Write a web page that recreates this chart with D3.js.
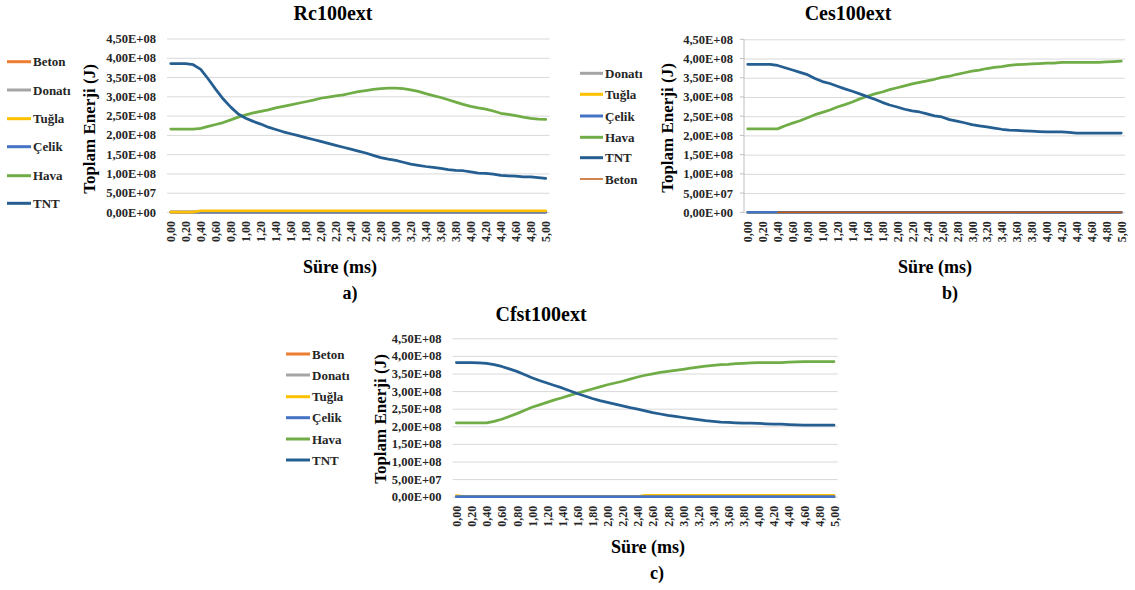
<!DOCTYPE html>
<html>
<head>
<meta charset="utf-8">
<script src="https://cdn.jsdelivr.net/npm/d3@7"></script>
<style>
  body { margin: 0; background: #fff; }
  svg { display: block; }
</style>
</head>
<body>
<svg id="chart" width="1135" height="590"></svg>
<script>
// Time steps (ms), one category per 0.1 ms
const time = [0.0,0.1,0.2,0.3,0.4,0.5,0.6,0.7,0.8,0.9,1.0,1.1,1.2,1.3,1.4,1.5,1.6,1.7,1.8,1.9,
              2.0,2.1,2.2,2.3,2.4,2.5,2.6,2.7,2.8,2.9,3.0,3.1,3.2,3.3,3.4,3.5,3.6,3.7,3.8,3.9,
              4.0,4.1,4.2,4.3,4.4,4.5,4.6,4.7,4.8,4.9,5.0];
// Category labels shown on the x axis (every second step)
const xTickTimes = [0.0,0.2,0.4,0.6,0.8,1.0,1.2,1.4,1.6,1.8,2.0,2.2,2.4,2.6,2.8,3.0,3.2,3.4,3.6,3.8,4.0,4.2,4.4,4.6,4.8,5.0];
const xTickLabels = ["0,00","0,20","0,40","0,60","0,80","1,00","1,20","1,40","1,60","1,80","2,00","2,20","2,40",
                     "2,60","2,80","3,00","3,20","3,40","3,60","3,80","4,00","4,20","4,40","4,60","4,80","5,00"];
// Energy axis (J)
const yTicks = [0, 5e7, 1e8, 1.5e8, 2e8, 2.5e8, 3e8, 3.5e8, 4e8, 4.5e8];
const yTickLabels = ["0,00E+00","5,00E+07","1,00E+08","1,50E+08","2,00E+08","2,50E+08","3,00E+08","3,50E+08","4,00E+08","4,50E+08"];
const yMax = 4.5e8;

// Energy values below are in units of 1e8 J
const UNIT = 1e8;

// ---- Rc100ext ----
const rcTNT = [3.85,3.85,3.85,3.82,3.70,3.45,3.18,2.93,2.72,2.54,2.43,2.35,2.28,2.20,2.14,2.08,2.03,1.98,1.93,1.88,
               1.83,1.78,1.73,1.68,1.63,1.58,1.53,1.47,1.41,1.37,1.34,1.29,1.24,1.21,1.18,1.16,1.13,1.10,1.08,1.07,
               1.04,1.01,1.00,0.98,0.95,0.94,0.93,0.91,0.91,0.89,0.87];
const rcHava = [2.15,2.15,2.15,2.15,2.17,2.22,2.27,2.32,2.39,2.46,2.52,2.57,2.61,2.65,2.70,2.74,2.78,2.82,2.86,2.90,
                2.95,2.98,3.01,3.04,3.08,3.12,3.15,3.18,3.20,3.21,3.21,3.20,3.17,3.13,3.07,3.02,2.97,2.91,2.85,2.79,
                2.74,2.70,2.67,2.62,2.56,2.53,2.50,2.46,2.43,2.41,2.40];
const rcTugla = [0,0,0,0,0.03,0.03,0.03,0.03,0.03,0.03,0.03,0.03,0.03,0.03,0.03,0.03,0.03,0.03,0.03,0.03,
                 0.03,0.03,0.03,0.03,0.03,0.03,0.03,0.03,0.03,0.03,0.03,0.03,0.03,0.03,0.03,0.03,0.03,0.03,0.03,0.03,
                 0.03,0.03,0.03,0.03,0.03,0.03,0.03,0.03,0.03,0.03,0.03];
const rcCelik = [0,0,0,0,0,0,0,0,0,0,0,0,0,0,0,0,0,0,0,0,0,0,0,0,0,0,0,0,0,0,0,0,0,0,0,0,0,0,0,0,0,0,0,0,0,0,0,0,0,0,0];
const rcBeton = [0,0,0,0,0,0,0,0,0,0,0,0,0,0,0,0,0,0,0,0,0,0,0,0,0,0,0,0,0,0,0,0,0,0,0,0,0,0,0,0,0,0,0,0,0,0,0,0,0,0,0];
const rcDonati = [0,0,0,0,0,0,0,0,0,0,0,0,0,0,0,0,0,0,0,0,0,0,0,0,0,0,0,0,0,0,0,0,0,0,0,0,0,0,0,0,0,0,0,0,0,0,0,0,0,0,0];

// ---- Ces100ext ----
const cesTNT = [3.85,3.85,3.85,3.85,3.82,3.76,3.70,3.64,3.58,3.48,3.40,3.35,3.28,3.21,3.15,3.08,3.01,2.94,2.86,2.79,
                2.74,2.68,2.64,2.61,2.56,2.51,2.48,2.41,2.37,2.33,2.28,2.25,2.22,2.19,2.16,2.14,2.13,2.12,2.11,2.10,
                2.09,2.09,2.09,2.08,2.06,2.06,2.06,2.06,2.06,2.06,2.06];
const cesHava = [2.17,2.17,2.17,2.17,2.17,2.25,2.32,2.38,2.46,2.54,2.60,2.66,2.74,2.80,2.87,2.95,3.02,3.08,3.13,3.19,
                 3.24,3.29,3.34,3.38,3.42,3.46,3.51,3.54,3.59,3.63,3.67,3.70,3.74,3.77,3.79,3.82,3.84,3.85,3.86,3.87,
                 3.88,3.88,3.90,3.90,3.90,3.90,3.90,3.90,3.91,3.92,3.93];
const cesTugla = [0,0,0,0,0,0,0,0,0,0,0,0,0,0,0,0,0,0,0,0,0,0,0,0,0,0,0,0,0,0,0,0,0,0,0,0,0,0,0,0,0,0,0,0,0,0,0,0,0,0,0];
const cesCelik = [0,0,0,0,0,0,0,0,0,0,0,0,0,0,0,0,0,0,0,0,0,0,0,0,0,0,0,0,0,0,0,0,0,0,0,0,0,0,0,0,0,0,0,0,0,0,0,0,0,0,0];
const cesBeton = [null,null,null,null,0,0,0,0,0,0,0,0,0,0,0,0,0,0,0,0,0,0,0,0,0,0,0,0,0,0,0,0,0,0,0,0,0,0,0,0,0,0,0,0,0,0,0,0,0,0,0];
const cesDonati = [0,0,0,0,0,0,0,0,0,0,0,0,0,0,0,0,0,0,0,0,0,0,0,0,0,0,0,0,0,0,0,0,0,0,0,0,0,0,0,0,0,0,0,0,0,0,0,0,0,0,0];

// ---- Cfst100ext ----
const cfstTNT = [3.81,3.81,3.81,3.80,3.79,3.75,3.70,3.63,3.56,3.47,3.38,3.30,3.23,3.16,3.09,3.01,2.93,2.86,2.79,2.73,
                 2.68,2.63,2.58,2.53,2.49,2.44,2.39,2.35,2.31,2.28,2.25,2.22,2.19,2.16,2.14,2.12,2.11,2.10,2.09,2.09,
                 2.08,2.07,2.06,2.06,2.05,2.04,2.03,2.03,2.03,2.03,2.03];
const cfstHava = [2.10,2.10,2.10,2.10,2.10,2.14,2.20,2.28,2.36,2.45,2.54,2.61,2.68,2.75,2.81,2.88,2.94,3.00,3.06,3.12,
                  3.18,3.23,3.28,3.34,3.40,3.45,3.49,3.53,3.56,3.59,3.62,3.65,3.68,3.71,3.73,3.75,3.76,3.78,3.79,3.80,
                  3.81,3.81,3.81,3.81,3.82,3.83,3.84,3.84,3.84,3.84,3.84];
const cfstTugla = [0.03,0,0,0,0,0,0,0,0,0,0,0,0,0,0,0,0,0,0,0,0,0,0,0,0,0.04,0.04,0.04,0.04,0.04,0.04,0.04,0.04,0.04,0.04,0.04,
                   0.04,0.04,0.04,0.04,0.04,0.04,0.04,0.04,0.04,0.04,0.04,0.04,0.04,0.04,0.04];
const cfstCelik = [0,0,0,0,0,0,0,0,0,0,0,0,0,0,0,0,0,0,0,0,0,0,0,0,0,0,0,0,0,0,0,0,0,0,0,0,0,0,0,0,0,0,0,0,0,0,0,0,0,0,0];
const cfstBeton = [0,0,0,0,0,0,0,0,0,0,0,0,0,0,0,0,0,0,0,0,0,0,0,0,0,0,0,0,0,0,0,0,0,0,0,0,0,0,0,0,0,0,0,0,0,0,0,0,0,0,0];
const cfstDonati = [0,0,0,0,0,0,0,0,0,0,0,0,0,0,0,0,0,0,0,0,0,0,0,0,0,0,0,0,0,0,0,0,0,0,0,0,0,0,0,0,0,0,0,0,0,0,0,0,0,0,0];

// Series styling
const style = {
  "Beton":  { color: "#ED7D31", width: 2.75 },
  "Donatı": { color: "#A5A5A5", width: 2.75 },
  "Tuğla":  { color: "#FFC000", width: 2.75 },
  "Çelik":  { color: "#4472C4", width: 2.75 },
  "Hava":   { color: "#70AD47", width: 2.75 },
  "TNT":    { color: "#255E91", width: 2.75 }
};

const FONT = '"Liberation Serif", "Times New Roman", serif';

const panels = [
  {
    title: "Rc100ext", letter: "a)",
    series: { "Beton": rcBeton, "Donatı": rcDonati, "Tuğla": rcTugla, "Çelik": rcCelik, "Hava": rcHava, "TNT": rcTNT },
    legendOrder: ["Beton","Donatı","Tuğla","Çelik","Hava","TNT"],
    drawOrder: ["Beton","Donatı","Çelik","Tuğla","Hava","TNT"],
    x0: 167, x1: 549.5, yTop: 38.5, yBottom: 212,
    titleX: 333, titleY: 20, yTitleX: 89, yTitleY: 129, xTitleX: 340, xTitleY: 273, letterX: 350, letterY: 299,
    legX0: 7, legX1: 31, legYs: [61.7, 90, 118.7, 146.7, 175.7, 203.3],
    axisLine: false
  },
  {
    title: "Ces100ext", letter: "b)",
    series: { "Beton": cesBeton, "Donatı": cesDonati, "Tuğla": cesTugla, "Çelik": cesCelik, "Hava": cesHava, "TNT": cesTNT },
    legendOrder: ["Donatı","Tuğla","Çelik","Hava","TNT","Beton"],
    drawOrder: ["Donatı","Tuğla","Çelik","Hava","TNT","Beton"],
    override: { "Beton": { color: "#C55A11", width: 1.5 } },
    x0: 744, x1: 1125, yTop: 39.3, yBottom: 212.3,
    titleX: 848, titleY: 20, yTitleX: 667, yTitleY: 128, xTitleX: 935, xTitleY: 273, letterX: 950, letterY: 299,
    legX0: 580, legX1: 603, legYs: [73.3, 94.3, 116, 137.3, 157.7, 179],
    axisLine: true
  },
  {
    title: "Cfst100ext", letter: "c)",
    series: { "Beton": cfstBeton, "Donatı": cfstDonati, "Tuğla": cfstTugla, "Çelik": cfstCelik, "Hava": cfstHava, "TNT": cfstTNT },
    legendOrder: ["Beton","Donatı","Tuğla","Çelik","Hava","TNT"],
    drawOrder: ["Beton","Donatı","Tuğla","Çelik","Hava","TNT"],
    x0: 452.6, x1: 837.8, yTop: 338.3, yBottom: 496.7,
    titleX: 541, titleY: 321, yTitleX: 380, yTitleY: 419, xTitleX: 648, xTitleY: 553, letterX: 657, letterY: 579,
    legX0: 286, legX1: 310, legYs: [354, 375, 396.7, 417.7, 439, 460],
    axisLine: false
  }
];

const svg = d3.select("#chart");

// Bold serif text helper
function label(sel, size, fill) {
  return sel.style("font-family", FONT).style("font-weight", "bold")
    .style("font-size", size + "px").attr("fill", fill);
}

panels.forEach(p => {
  const g = svg.append("g");
  const styleOf = name => (p.override && p.override[name]) || style[name];

  const x = d3.scalePoint().domain(time).range([p.x0, p.x1]).padding(0.5);
  const y = d3.scaleLinear().domain([0, yMax]).range([p.yBottom, p.yTop]);

  // Horizontal gridlines with energy labels
  const yAxis = d3.axisLeft(y)
    .tickValues(yTicks)
    .tickFormat((d, i) => yTickLabels[i])
    .tickSize(-(p.x1 - p.x0))
    .tickPadding(11);
  const ya = g.append("g").attr("transform", `translate(${p.x0},0)`).call(yAxis);
  ya.select(".domain").remove();
  ya.selectAll(".tick line").attr("stroke", "#D9D9D9").attr("stroke-width", 1);
  label(ya.selectAll(".tick text"), 12.5, "#262626");

  if (p.axisLine) {
    g.append("line")
      .attr("x1", p.x0).attr("x2", p.x0).attr("y1", p.yTop).attr("y2", p.yBottom)
      .attr("stroke", "#BFBFBF").attr("stroke-width", 1);
    g.selectAll(".ytick-mark").data(yTicks).join("line")
      .attr("x1", p.x0 - 4).attr("x2", p.x0)
      .attr("y1", d => y(d)).attr("y2", d => y(d))
      .attr("stroke", "#BFBFBF").attr("stroke-width", 1);
  }

  // Time categories along the bottom, rotated
  const xAxis = d3.axisBottom(x)
    .tickValues(xTickTimes)
    .tickFormat((d, i) => xTickLabels[i])
    .tickSize(0);
  const xa = g.append("g").attr("transform", `translate(0,${p.yBottom})`).call(xAxis);
  xa.select(".domain").remove();
  label(xa.selectAll(".tick text"), 12, "#262626")
    .attr("transform", "rotate(-90)")
    .attr("x", -9).attr("y", 0).attr("dy", "0.35em")
    .attr("text-anchor", "end");

  // Energy curves
  const line = d3.line()
    .defined(d => d.v !== null)
    .x(d => x(d.t))
    .y(d => y(d.v * UNIT));
  p.drawOrder.forEach(name => {
    const vals = p.series[name];
    const pts = time.map((t, i) => ({ t, v: vals[i] }));
    const s = styleOf(name);
    g.append("path")
      .datum(pts)
      .attr("d", line)
      .attr("fill", "none")
      .attr("stroke", s.color)
      .attr("stroke-width", s.width)
      .attr("stroke-linejoin", "round")
      .attr("stroke-linecap", "round");
  });

  // Legend
  p.legendOrder.forEach((name, i) => {
    const s = styleOf(name);
    const ly = p.legYs[i];
    g.append("line")
      .attr("x1", p.legX0).attr("x2", p.legX1).attr("y1", ly).attr("y2", ly)
      .attr("stroke", s.color).attr("stroke-width", s.width === 2.75 ? 3 : s.width);
    label(g.append("text"), 13, "#262626")
      .attr("x", p.legX1 + 2).attr("y", ly).attr("dy", "0.35em")
      .text(name);
  });

  // Titles
  label(g.append("text"), 20, "#000")
    .attr("x", p.titleX).attr("y", p.titleY)
    .attr("text-anchor", "middle").text(p.title);
  label(g.append("text"), 17, "#000")
    .attr("transform", `translate(${p.yTitleX},${p.yTitleY}) rotate(-90)`)
    .attr("text-anchor", "middle").attr("dy", "0.35em")
    .text("Toplam Enerji (J)");
  label(g.append("text"), 18, "#000")
    .attr("x", p.xTitleX).attr("y", p.xTitleY)
    .attr("text-anchor", "middle").text("Süre (ms)");
  label(g.append("text"), 18, "#000")
    .attr("x", p.letterX).attr("y", p.letterY)
    .attr("text-anchor", "middle").text(p.letter);
});
</script>
</body>
</html>
